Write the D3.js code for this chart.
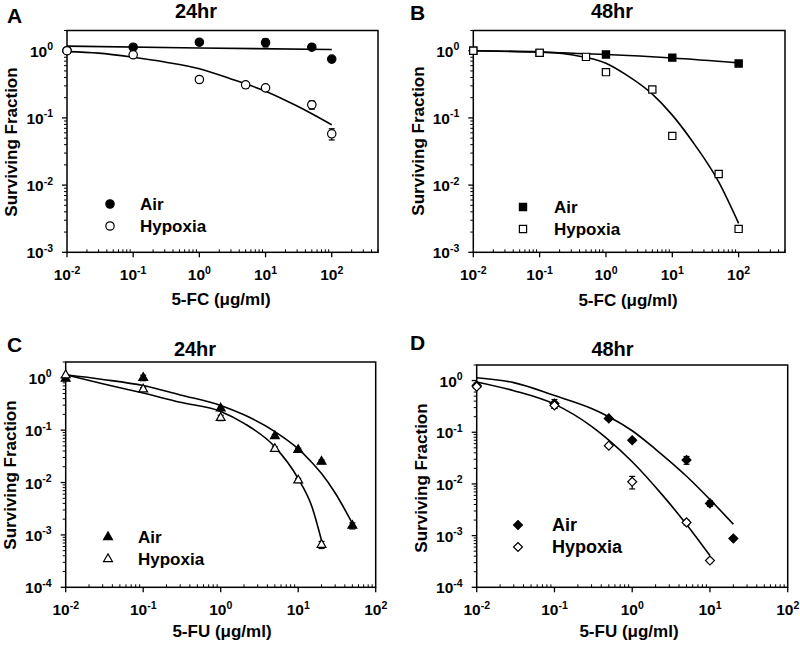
<!DOCTYPE html>
<html><head><meta charset="utf-8">
<script src="https://cdn.jsdelivr.net/npm/d3@7"></script>
<style>
body{margin:0;background:#fff}
svg text{font-family:"Liberation Sans",Arial,Helvetica,sans-serif;font-weight:bold;fill:#000}
</style>
</head><body>
<svg id="chart" width="800" height="648"></svg>
<script>
// ---------- DATA ----------
const panelLetters = ["A", "B", "C", "D"];
const panelTitles = ["24hr", "48hr", "24hr", "48hr"];
const xAxisTitles = ["5-FC (\u03bcg/ml)", "5-FC (\u03bcg/ml)", "5-FU (\u03bcg/ml)", "5-FU (\u03bcg/ml)"];
const yAxisTitle = "Surviving Fraction";
const seriesNames = ["Air", "Hypoxia"];
const xTickExponents = [-2, -1, 0, 1, 2];
const yTickExponentsAB = [-3, -2, -1, 0];
const yTickExponentsCD = [-4, -3, -2, -1, 0];

// Panel A: 5-FC 24hr
const aAirX = [0.01, 0.1, 1, 10, 50, 100];
const aAirY = [1.0, 1.13, 1.34, 1.32, 1.13, 0.75];
const aAirErr = [0, 0.05, 0.08, 0.18, 0.05, 0.06];
const aHypX = [0.01, 0.1, 1, 5, 10, 50, 100];
const aHypY = [1.0, 0.87, 0.373, 0.311, 0.28, 0.157, 0.058];
const aHypErr = [0, 0.03, 0.02, 0.035, 0.025, 0.022, 0.011];
const aAirFitX = [0.01, 1, 100];
const aAirFitY = [1.17, 1.1, 1.04];
const aHypFitX = [0.01, 0.03, 0.1, 0.3, 1, 3, 10, 30, 100];
const aHypFitY = [0.97, 0.92, 0.80, 0.68, 0.54, 0.38, 0.25, 0.15, 0.079];

// Panel B: 5-FC 48hr
const bAirX = [0.01, 0.1, 1, 10, 100];
const bAirY = [1.0, 0.93, 0.88, 0.79, 0.645];
const bAirErr = [0, 0.02, 0.02, 0.02, 0.02];
const bHypX = [0.01, 0.1, 0.5, 1, 5, 10, 50, 100];
const bHypY = [1.0, 0.93, 0.81, 0.48, 0.265, 0.054, 0.0146, 0.00223];
const bHypErr = [0, 0.03, 0.03, 0.03, 0.01, 0.004, 0.001, 0.0001];
const bAirFitX = [0.01, 0.1, 1, 10, 100];
const bAirFitY = [1.0, 0.95, 0.88, 0.78, 0.66];
const bHypFitX = [0.01, 0.1, 0.3, 1, 2, 5, 10, 20, 50, 100];
const bHypFitY = [1.0, 0.96, 0.87, 0.65, 0.44, 0.226, 0.11, 0.045, 0.0112, 0.0027];

// Panel C: 5-FU 24hr
const cAirX = [0.01, 0.1, 1, 5, 10, 20, 50];
const cAirY = [0.96, 1.0, 0.26, 0.077, 0.042, 0.025, 0.0015];
const cAirErr = [0, 0.12, 0.02, 0.006, 0.003, 0.002, 0.0002];
const cHypX = [0.01, 0.1, 1, 5, 10, 20];
const cHypY = [1.12, 0.6, 0.172, 0.044, 0.011, 0.00065];
const cHypErr = [0, 0.05, 0.02, 0.004, 0.001, 0.0001];
const cAirFitX = [0.01, 0.03, 0.1, 0.3, 1, 2, 5, 10, 14, 20, 30, 50];
const cAirFitY = [1.14, 0.93, 0.71, 0.47, 0.297, 0.196, 0.094, 0.044, 0.027, 0.0148, 0.0063, 0.00166];
const cHypFitX = [0.01, 0.03, 0.1, 0.3, 1, 2, 5, 10, 15, 20];
const cHypFitY = [1.14, 0.77, 0.51, 0.34, 0.228, 0.135, 0.048, 0.0119, 0.0035, 0.00078];

// Panel D: 5-FU 48hr
const dAirX = [0.01, 0.1, 0.5, 1, 5, 10, 20];
const dAirY = [0.8, 0.36, 0.185, 0.07, 0.029, 0.0042, 0.00088];
const dAirErr = [0.05, 0.07, 0.015, 0.005, 0.005, 0.0005, 0.00005];
const dHypX = [0.01, 0.1, 0.5, 1, 5, 10];
const dHypY = [0.76, 0.33, 0.055, 0.011, 0.0018, 0.00033];
const dHypErr = [0.05, 0.04, 0.004, 0.003, 0.0002, 0.00003];
const dAirFitX = [0.01, 0.03, 0.1, 0.3, 0.5, 1, 2, 5, 10, 20];
const dAirFitY = [1.13, 0.912, 0.513, 0.288, 0.2, 0.107, 0.0468, 0.0141, 0.005, 0.00166];
const dHypFitX = [0.01, 0.03, 0.1, 0.3, 0.5, 1, 2.5, 5, 10];
const dHypFitY = [0.94, 0.638, 0.35, 0.13, 0.0706, 0.0269, 0.00587, 0.00164, 0.00041];

// ---------- LAYOUT ----------
const svg = d3.select("#chart");
const zip = (xs, ys, es) => xs.map((x, i) => ({x, y: ys[i], e: es ? es[i] : 0}));

const panels = [
  {box: {l: 67, r: 378, t: 30.5, b: 252.3}, xMax: 500, yMin: 1e-3, yTicks: yTickExponentsAB,
   letter: {x: 7, y: 23}, title: {x: 196, y: 18}, xTitle: {x: 221, y: 305}, yTitle: {x: 17, y: 142},
   legend: {x: 110, y: 204, tx: 140, fs: 17},
   shapes: [{sym: d3.symbolCircle, size: 55, rot: 0}, {sym: d3.symbolCircle, size: 55, rot: 0}],
   air: zip(aAirX, aAirY, aAirErr), hyp: zip(aHypX, aHypY, aHypErr),
   airFit: zip(aAirFitX, aAirFitY), hypFit: zip(aHypFitX, aHypFitY)},
  {box: {l: 473.3, r: 785, t: 30.5, b: 252.3}, xMax: 500, yMin: 1e-3, yTicks: yTickExponentsAB,
   letter: {x: 410, y: 20}, title: {x: 612, y: 18}, xTitle: {x: 628, y: 306}, yTitle: {x: 424, y: 141},
   legend: {x: 523, y: 207, tx: 554, fs: 17},
   shapes: [{sym: d3.symbolSquare, size: 52, rot: 0}, {sym: d3.symbolSquare, size: 52, rot: 0}],
   air: zip(bAirX, bAirY, bAirErr), hyp: zip(bHypX, bHypY, bHypErr),
   airFit: zip(bAirFitX, bAirFitY), hypFit: zip(bHypFitX, bHypFitY)},
  {box: {l: 65.7, r: 375.7, t: 362, b: 587.3}, xMax: 100, yMin: 1e-4, yTicks: yTickExponentsCD,
   letter: {x: 7, y: 352}, title: {x: 195, y: 355.5}, xTitle: {x: 222, y: 637}, yTitle: {x: 16, y: 475},
   legend: {x: 108, y: 537, tx: 138, fs: 17},
   shapes: [{sym: d3.symbolTriangle, size: 34, rot: 0}, {sym: d3.symbolTriangle, size: 34, rot: 0}],
   air: zip(cAirX, cAirY, cAirErr), hyp: zip(cHypX, cHypY, cHypErr),
   airFit: zip(cAirFitX, cAirFitY), hypFit: zip(cHypFitX, cHypFitY)},
  {box: {l: 476.7, r: 787.7, t: 365, b: 587.3}, xMax: 100, yMin: 1e-4, yTicks: yTickExponentsCD,
   letter: {x: 410, y: 350}, title: {x: 612.5, y: 355.5}, xTitle: {x: 629, y: 637}, yTitle: {x: 427, y: 478},
   legend: {x: 518, y: 525, tx: 552, fs: 18},
   shapes: [{sym: d3.symbolSquare, size: 40, rot: 45}, {sym: d3.symbolSquare, size: 40, rot: 45}],
   air: zip(dAirX, dAirY, dAirErr), hyp: zip(dHypX, dHypY, dHypErr),
   airFit: zip(dAirFitX, dAirFitY), hypFit: zip(dHypFitX, dHypFitY)}
];

function supLabel(sel, exp, fs) {
  sel.append("tspan").attr("font-size", fs).text("10");
  sel.append("tspan").attr("font-size", fs * 0.68).attr("dy", -fs * 0.42).text(String(exp));
}

panels.forEach((p, i) => {
  const {l, r, t, b} = p.box;
  const x = d3.scaleLog().domain([0.01, p.xMax]).range([l, r]);
  const y = d3.scaleLog().domain([p.yMin, 2]).range([b, t]);
  const g = svg.append("g");

  // minor ticks
  const xMinor = [], yMinor = [];
  for (let k = -2; k <= 2; k++) for (let m = 2; m <= 9; m++) { const v = m * Math.pow(10, k); if (v <= p.xMax) xMinor.push(v); }
  for (let k = Math.log10(p.yMin); k <= 0; k++) for (let m = 2; m <= 9; m++) { const v = m * Math.pow(10, k); if (v <= 2) yMinor.push(v); }
  g.selectAll(".xm").data(xMinor).join("line")
    .attr("x1", d => x(d)).attr("x2", d => x(d)).attr("y1", b).attr("y2", b - 3)
    .attr("stroke", "#000").attr("stroke-width", 1);
  g.selectAll(".ym").data(yMinor).join("line")
    .attr("x1", l).attr("x2", l - 3).attr("y1", d => y(d)).attr("y2", d => y(d))
    .attr("stroke", "#000").attr("stroke-width", 1);

  // major ticks + labels
  const xMajor = xTickExponents.map(e => Math.pow(10, e));
  g.selectAll(".xM").data(xMajor).join("line")
    .attr("x1", d => x(d)).attr("x2", d => x(d)).attr("y1", b).attr("y2", b + 5)
    .attr("stroke", "#000").attr("stroke-width", 1.3);
  xTickExponents.forEach(e => {
    const tx = g.append("text").attr("x", x(Math.pow(10, e))).attr("y", b + 28).attr("text-anchor", "middle");
    supLabel(tx, e, 15.5);
  });
  g.selectAll(".yM").data(p.yTicks.map(e => Math.pow(10, e))).join("line")
    .attr("x1", l).attr("x2", l - 5).attr("y1", d => y(d)).attr("y2", d => y(d))
    .attr("stroke", "#000").attr("stroke-width", 1.3);
  p.yTicks.forEach(e => {
    const ty = g.append("text").attr("x", l - 14).attr("y", y(Math.pow(10, e)) + 6).attr("text-anchor", "end");
    supLabel(ty, e, 15.5);
  });

  // frame
  g.append("rect").attr("x", l).attr("y", t).attr("width", r - l).attr("height", b - t)
    .attr("fill", "none").attr("stroke", "#000").attr("stroke-width", 1.5);

  // fit curves
  const line = d3.line().x(d => x(d.x)).y(d => y(d.y)).curve(d3.curveMonotoneX);
  [p.airFit, p.hypFit].forEach(fit => {
    g.append("path").attr("d", line(fit)).attr("fill", "none").attr("stroke", "#000").attr("stroke-width", 1.6);
  });

  // error bars and markers
  [p.air, p.hyp].forEach((ser, si) => {
    const fill = si === 0 ? "#000" : "#fff";
    ser.forEach(d => {
      if (d.e > 0) {
        const y1 = y(d.y + d.e), y2 = y(Math.max(d.y - d.e, p.yMin));
        g.append("line").attr("x1", x(d.x)).attr("x2", x(d.x)).attr("y1", y1).attr("y2", y2)
          .attr("stroke", "#000").attr("stroke-width", 1.2);
        [y1, y2].forEach(yy => g.append("line").attr("x1", x(d.x) - 3).attr("x2", x(d.x) + 3)
          .attr("y1", yy).attr("y2", yy).attr("stroke", "#000").attr("stroke-width", 1.2));
      }
    });
    const sh = p.shapes[si];
    g.selectAll(null).data(ser).join("path")
      .attr("d", d3.symbol().type(sh.sym).size(sh.size))
      .attr("transform", d => `translate(${x(d.x)},${y(d.y)}) rotate(${sh.rot})`)
      .attr("fill", fill).attr("stroke", "#000").attr("stroke-width", 1.2);
  });

  // legend
  seriesNames.forEach((name, si) => {
    const ly = p.legend.y + si * 22;
    const sh = p.shapes[si];
    g.append("path").attr("d", d3.symbol().type(sh.sym).size(sh.size)())
      .attr("transform", `translate(${p.legend.x},${ly}) rotate(${sh.rot})`)
      .attr("fill", si === 0 ? "#000" : "#fff").attr("stroke", "#000").attr("stroke-width", 1.2);
    g.append("text").attr("x", p.legend.tx).attr("y", ly + 6).attr("font-size", p.legend.fs).text(name);
  });

  // titles
  g.append("text").attr("x", p.letter.x).attr("y", p.letter.y).attr("font-size", 21).text(panelLetters[i]);
  g.append("text").attr("x", p.title.x).attr("y", p.title.y).attr("text-anchor", "middle").attr("font-size", 20).text(panelTitles[i]);
  g.append("text").attr("x", p.xTitle.x).attr("y", p.xTitle.y).attr("text-anchor", "middle").attr("font-size", 17).text(xAxisTitles[i]);
  g.append("text").attr("transform", `translate(${p.yTitle.x},${p.yTitle.y}) rotate(-90)`)
    .attr("text-anchor", "middle").attr("font-size", 17).text(yAxisTitle);
});
</script>
</body></html>
